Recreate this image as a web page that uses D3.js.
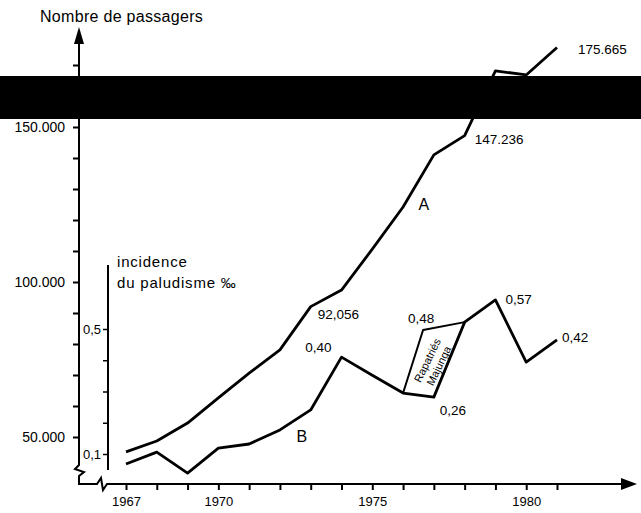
<!DOCTYPE html>
<html>
<head>
<meta charset="utf-8">
<script src="https://cdn.jsdelivr.net/npm/d3@7"></script>
<style>
  body { margin: 0; background: #fff; }
  svg text { font-family: "Liberation Sans", Arial, sans-serif; fill: #000; }
</style>
</head>
<body>
<div id="chart-area"></div>
<script>
// Passagers (A) et incidence du paludisme (B), 1967-1981

const years = [1967, 1968, 1969, 1970, 1971, 1972, 1973, 1974, 1975, 1976, 1977, 1978, 1979, 1980, 1981]
const passagers = [45200, 48700, 54500, 62600, 70600, 78100, 92056, 97400, 110600, 124200, 141000, 147236, 168100, 166800, 175665]
const paludisme = [0.068, 0.106, 0.039, 0.119, 0.132, 0.177, 0.241, 0.41, 0.352, 0.295, 0.282, 0.522, 0.593, 0.394, 0.465]

// upper edge of the "Rapatriés Majunga" box
const rapatriesYears = [1976, 1976.65, 1978]
const rapatriesValues = [0.295, 0.497, 0.522]

const yTicks = [50000, 60000, 70000, 80000, 90000, 100000, 110000, 120000, 130000, 140000, 150000, 160000, 170000]
const yLabels = { 50000: '50.000', 100000: '100.000', 150000: '150.000' }
const bTicks = [0.1, 0.2, 0.3, 0.4, 0.5]
const bLabels = { 0.1: '0,1', 0.5: '0,5' }
const xLabels = { 1967: '1967', 1970: '1970', 1975: '1975', 1980: '1980' }

const WIDTH = 641
const HEIGHT = 513

const svg = d3.select('#chart-area').append('svg')
  .attr('width', WIDTH)
  .attr('height', HEIGHT)

// scales
const x = d3.scaleLinear().domain([1967, 1981]).range([126, 557])
const y = d3.scaleLinear().domain([50000, 150000]).range([437, 127])
const yB = d3.scaleLinear().domain([0.1, 0.5]).range([454, 329])

const AXIS_X = 79
const AXIS_Y = 484

// arrow heads
svg.append('path')
  .attr('d', `M${AXIS_X - 5},44 L${AXIS_X},27 L${AXIS_X + 5},44 Z`)
  .attr('fill', '#000')
svg.append('path')
  .attr('d', `M621,${AXIS_Y - 6} L637,${AXIS_Y} L621,${AXIS_Y + 6} Z`)
  .attr('fill', '#000')

// axis lines with breaks near the origin
svg.append('path')
  .attr('d', `M${AXIS_X},40 L${AXIS_X},465 L75,469 L84,472 L${AXIS_X},476 L${AXIS_X},${AXIS_Y} L97,${AXIS_Y} L101,478 L103,490 L107,${AXIS_Y} L625,${AXIS_Y}`)
  .attr('fill', 'none')
  .attr('stroke', '#000')
  .attr('stroke-width', 2)

// y axis (passengers)
const yAxisCall = d3.axisLeft(y)
  .tickValues(yTicks)
  .tickSize(6)
  .tickPadding(8)
  .tickFormat(d => yLabels[d] || '')
const yAxis = svg.append('g')
  .attr('transform', `translate(${AXIS_X}, 0)`)
  .call(yAxisCall)
yAxis.select('.domain').remove()
yAxis.selectAll('line').attr('stroke-width', 2)
yAxis.selectAll('text').attr('font-size', '14px')

// x axis (years)
const xAxisCall = d3.axisBottom(x)
  .tickValues(years)
  .tickSize(6)
  .tickPadding(7)
  .tickFormat(d => xLabels[d] || '')
const xAxis = svg.append('g')
  .attr('transform', `translate(0, ${AXIS_Y})`)
  .call(xAxisCall)
xAxis.select('.domain').remove()
xAxis.selectAll('line').attr('stroke-width', 2)
xAxis.selectAll('text').attr('font-size', '13px')

// secondary axis (incidence)
const B_AXIS_X = 108
svg.append('line')
  .attr('x1', B_AXIS_X).attr('x2', B_AXIS_X)
  .attr('y1', 265).attr('y2', 470)
  .attr('stroke', '#000')
  .attr('stroke-width', 2)
const bAxisCall = d3.axisLeft(yB)
  .tickValues(bTicks)
  .tickSize(5)
  .tickPadding(2)
  .tickFormat(d => bLabels[d] || '')
const bAxis = svg.append('g')
  .attr('transform', `translate(${B_AXIS_X}, 0)`)
  .call(bAxisCall)
bAxis.select('.domain').remove()
bAxis.selectAll('line').attr('stroke-width', 1.5)
bAxis.selectAll('text').attr('font-size', '13px')

// axis titles
svg.append('text')
  .attr('x', 40)
  .attr('y', 22)
  .attr('font-size', '16px')
  .attr('letter-spacing', '0.3px')
  .text('Nombre de passagers')

svg.append('text')
  .attr('x', 117)
  .attr('y', 267)
  .attr('font-size', '15px')
  .attr('letter-spacing', '0.8px')
  .text('incidence')
svg.append('text')
  .attr('x', 117)
  .attr('y', 288)
  .attr('font-size', '15px')
  .attr('letter-spacing', '0.8px')
  .text('du paludisme ‰')

// lines
const lineA = d3.line()
  .x((d, i) => x(years[i]))
  .y(d => y(d))
const lineB = d3.line()
  .x((d, i) => x(years[i]))
  .y(d => yB(d))
const lineR = d3.line()
  .x((d, i) => x(rapatriesYears[i]))
  .y(d => yB(d))

svg.append('path')
  .attr('d', lineA(passagers))
  .attr('fill', 'none')
  .attr('stroke', '#000')
  .attr('stroke-width', 2.8)
  .attr('stroke-linejoin', 'round')

svg.append('path')
  .attr('d', lineB(paludisme))
  .attr('fill', 'none')
  .attr('stroke', '#000')
  .attr('stroke-width', 2.8)
  .attr('stroke-linejoin', 'round')

svg.append('path')
  .attr('d', lineR(rapatriesValues))
  .attr('fill', 'none')
  .attr('stroke', '#000')
  .attr('stroke-width', 2)
  .attr('stroke-linejoin', 'round')

// box text
const boxText = svg.append('text')
  .attr('transform', `translate(${x(1977) - 1}, 363) rotate(-64)`)
  .attr('text-anchor', 'middle')
  .attr('font-size', '11px')
boxText.append('tspan').attr('x', 0).attr('dy', '-0.2em').text('Rapatriés')
boxText.append('tspan').attr('x', 0).attr('dy', '1.15em').text('Majunga')

// value labels
const label = (px, py, txt, anchor) => svg.append('text')
  .attr('x', px)
  .attr('y', py)
  .attr('font-size', '13.5px')
  .attr('text-anchor', anchor || 'start')
  .text(txt)

label(x(1973) + 7, y(92056) + 12, '92,056')
label(x(1978) + 10, y(147236) + 8, '147.236')
label(x(1981) + 21, y(175665) + 7, '175.665')
label(x(1974) - 10, yB(0.41) - 5, '0,40', 'end')
label(x(1976.65) - 2, yB(0.497) - 7, '0,48', 'middle')
label(x(1977) + 6, yB(0.282) + 18, '0,26')
label(x(1979) + 10, yB(0.593) + 4, '0,57')
label(x(1981) + 5, yB(0.465) + 2, '0,42')

svg.append('text')
  .attr('x', x(1977) - 10)
  .attr('y', y(124200) + 3)
  .attr('font-size', '16px')
  .attr('text-anchor', 'middle')
  .text('A')
svg.append('text')
  .attr('x', x(1972) + 22)
  .attr('y', yB(0.177) + 12)
  .attr('font-size', '16px')
  .attr('text-anchor', 'middle')
  .text('B')

// black redaction band across the top of the figure
svg.append('rect')
  .attr('x', 0)
  .attr('y', 76)
  .attr('width', WIDTH)
  .attr('height', 43)
  .attr('fill', '#000')
</script>
</body>
</html>
